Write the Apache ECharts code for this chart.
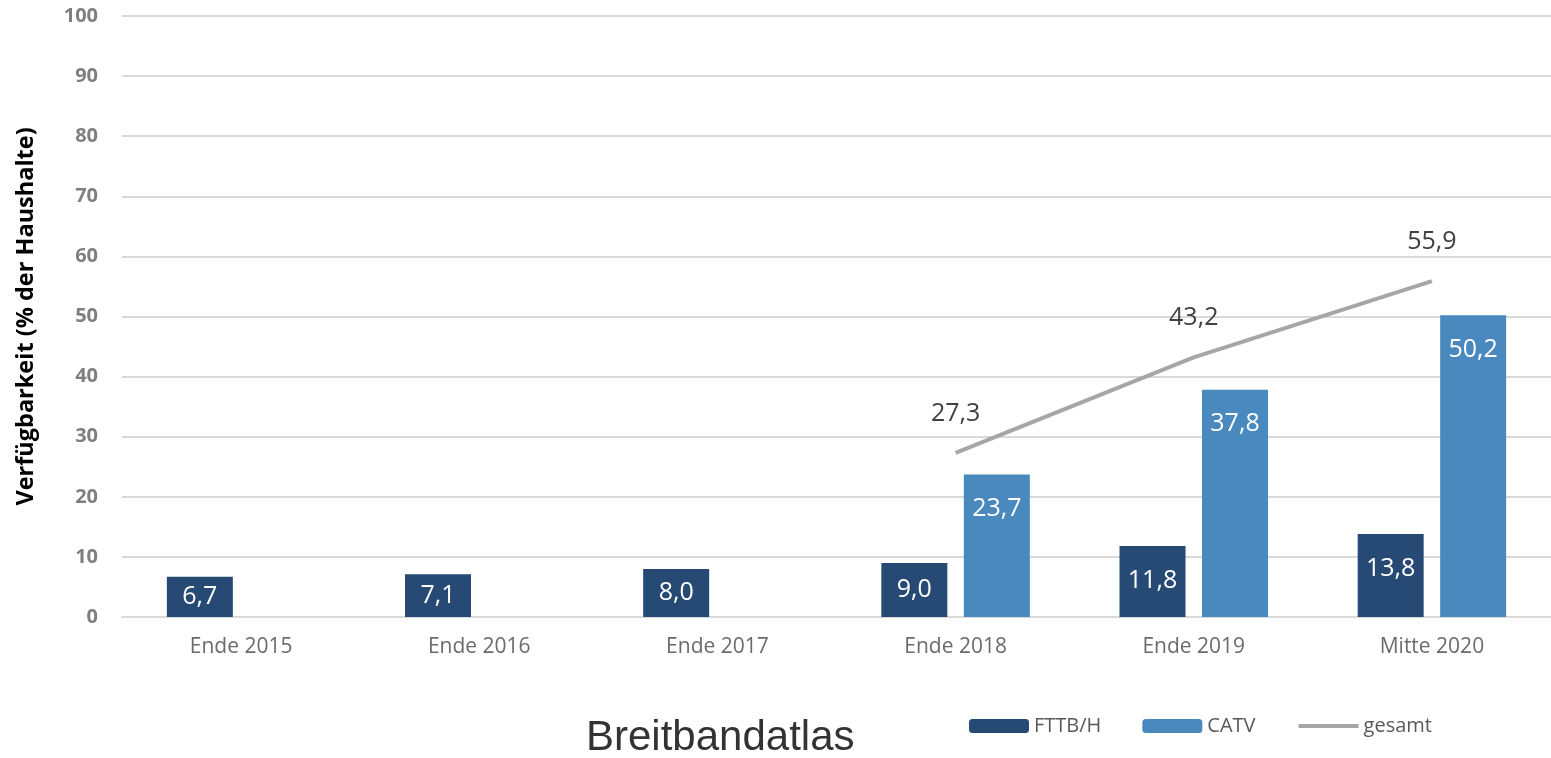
<!DOCTYPE html>
<html lang="de">
<head>
    <meta charset="UTF-8">
    <title>Breitbandatlas</title>
    <script src="https://cdn.jsdelivr.net/npm/echarts@6/dist/echarts.min.js"></script>
    <style>
        html, body { margin: 0; padding: 0; background: #fff; }
        #chart { width: 1551px; height: 758px; }
    </style>
</head>
<body>
<div id="chart"></div>
<script>
    // Daten (Verfügbarkeit in % der Haushalte)
    var kategorien = ['Ende 2015', 'Ende 2016', 'Ende 2017', 'Ende 2018', 'Ende 2019', 'Mitte 2020'];
    var fttbh = [6.7, 7.1, 8.0, 9.0, 11.8, 13.8];
    var catv = [null, null, null, 23.7, 37.8, 50.2];
    var gesamt = [null, null, null, 27.3, 43.2, 55.9];
    var yTicks = [0, 10, 20, 30, 40, 50, 60, 70, 80, 90, 100];

    var fmt = function (v) { return v.toFixed(1).replace('.', ','); };

    // Beschriftung in den Balken: kleine Balken mittig, große oben innen
    function barData(arr) {
        return arr.map(function (v) {
            if (v == null) return '-';
            return {
                value: v,
                label: v > 10 ? { position: 'insideTop', distance: 22 } : { position: 'inside' }
            };
        });
    }

    var barLabel = {
        show: true,
        color: '#fff',
        fontFamily: 'Open Sans',
        fontSize: 25,
        formatter: function (p) { return fmt(p.value); }
    };

    var chart = echarts.init(document.getElementById('chart'));
    chart.setOption({
        animation: false,
        textStyle: { fontFamily: 'Open Sans' },
        grid: { left: 122, right: -3, top: 16, bottom: 141 },
        legend: {
            left: 964,
            top: 711,
            itemWidth: 60,
            itemHeight: 14,
            itemGap: 41,
            textStyle: { fontSize: 20, color: '#595959', fontFamily: 'Open Sans' },
            data: ['FTTB/H', 'CATV', { name: 'gesamt', lineStyle: { width: 4 } }]
        },
        graphic: [{
            type: 'text',
            left: 586,
            top: 717,
            style: {
                text: 'Breitbandatlas',
                font: '42px "Liberation Sans"',
                fill: '#333'
            }
        }],
        xAxis: {
            type: 'category',
            data: kategorien,
            axisTick: { show: false },
            axisLine: { lineStyle: { color: '#D9D9D9', width: 2 } },
            axisLabel: { color: '#6b6b6b', fontSize: 21, margin: 20, fontFamily: 'Open Sans' }
        },
        yAxis: {
            type: 'value',
            min: yTicks[0],
            max: yTicks[yTicks.length - 1],
            interval: 10,
            name: 'Verfügbarkeit (% der Haushalte)',
            nameLocation: 'middle',
            nameRotate: 90,
            nameGap: 84,
            nameTextStyle: { fontSize: 23.5, fontWeight: 'bold', color: '#000', fontFamily: 'Open Sans' },
            axisLine: { show: false },
            axisTick: { show: false },
            axisLabel: { color: '#7f7f7f', fontSize: 20, fontWeight: 'bold', margin: 24, fontFamily: 'Open Sans' },
            splitLine: { lineStyle: { color: '#D9D9D9', width: 2 } }
        },
        series: [{
            name: 'FTTB/H',
            type: 'bar',
            barWidth: 66,
            barGap: '25%',
            itemStyle: { color: '#264A73' },
            label: barLabel,
            data: barData(fttbh)
        }, {
            name: 'CATV',
            type: 'bar',
            barWidth: 66,
            itemStyle: { color: '#4A89BE' },
            label: barLabel,
            data: barData(catv)
        }, {
            name: 'gesamt',
            type: 'line',
            symbol: 'circle',
            symbolSize: 1,
            showSymbol: true,
            lineStyle: { color: '#A6A6A6', width: 4 },
            itemStyle: { color: 'rgba(166,166,166,0)' },
            label: {
                show: true,
                position: 'top',
                distance: 26,
                color: '#404040',
                fontSize: 25,
                fontFamily: 'Open Sans',
                formatter: function (p) { return fmt(p.value); }
            },
            data: gesamt.map(function (v) { return v == null ? '-' : v; })
        }]
    });
</script>
</body>
</html>
